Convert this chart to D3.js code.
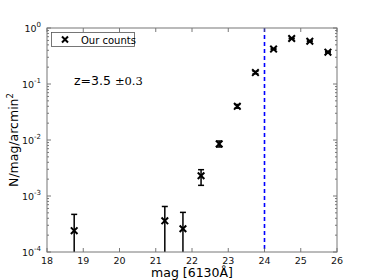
<!DOCTYPE html>
<html>
<head>
<meta charset="utf-8">
<script src="https://cdn.jsdelivr.net/npm/d3@7"></script>
<style>
  body { margin: 0; background: #fff; }
  svg text { font-family: "DejaVu Sans", sans-serif; }
</style>
</head>
<body>
<div id="chart"></div>
<script>
// counts per magnitude bin
var mags = [18.75, 21.25, 21.75, 22.25, 22.75, 23.25, 23.75, 24.25, 24.75, 25.25, 25.75];
var counts = [2.4e-4, 3.6e-4, 2.6e-4, 2.3e-3, 8.5e-3, 0.040, 0.16, 0.42, 0.65, 0.58, 0.37];
var errHi = [4.7e-4, 6.5e-4, 5.1e-4, 2.95e-3, 9.6e-3, 0.043, 0.168, 0.43, 0.66, 0.59, 0.38];
var errLo = [0, 0, 0, 1.55e-3, 7.5e-3, 0.037, 0.152, 0.41, 0.64, 0.57, 0.36];
var xTicks = [18, 19, 20, 21, 22, 23, 24, 25, 26];
var yDecades = [-4, -3, -2, -1, 0];
var limitMag = 24;

var w = 374, h = 280;
var m = {left: 47, right: 37, top: 28, bottom: 28};

var svg = d3.select('#chart').append('svg')
    .attr('width', w)
    .attr('height', h);

var x = d3.scaleLinear().domain([18, 26]).range([m.left, w - m.right]);
var y = d3.scaleLog().domain([1e-4, 1]).range([h - m.bottom, m.top]);

var plot = svg.append('g');

// clip for error bars running off the bottom
svg.append('clipPath').attr('id', 'clip')
  .append('rect')
    .attr('x', m.left).attr('y', m.top)
    .attr('width', w - m.left - m.right).attr('height', h - m.top - m.bottom);

// minor log ticks
var minor = [];
yDecades.slice(0, -1).forEach(function(d){
  for (var k = 2; k < 10; k++) minor.push(k * Math.pow(10, d));
});

var tg = svg.append('g').attr('stroke', '#555').attr('stroke-width', 0.8);
xTicks.forEach(function(t){
  tg.append('line').attr('x1', x(t)).attr('x2', x(t)).attr('y1', y(1e-4)).attr('y2', y(1e-4) - 4);
  tg.append('line').attr('x1', x(t)).attr('x2', x(t)).attr('y1', y(1)).attr('y2', y(1) + 4);
});
yDecades.forEach(function(d){
  var v = Math.pow(10, d);
  tg.append('line').attr('x1', x(18)).attr('x2', x(18) + 4).attr('y1', y(v)).attr('y2', y(v));
  tg.append('line').attr('x1', x(26)).attr('x2', x(26) - 4).attr('y1', y(v)).attr('y2', y(v));
});
minor.forEach(function(v){
  tg.append('line').attr('x1', x(18)).attr('x2', x(18) + 2).attr('y1', y(v)).attr('y2', y(v));
  tg.append('line').attr('x1', x(26)).attr('x2', x(26) - 2).attr('y1', y(v)).attr('y2', y(v));
});

// tick labels
svg.append('g').selectAll('text')
  .data(xTicks).enter().append('text')
    .attr('x', function(d){ return x(d); })
    .attr('y', h - m.bottom + 12)
    .attr('text-anchor', 'middle')
    .attr('font-size', 9.5)
    .attr('fill', '#111')
    .text(function(d){ return d; });

var yl = svg.append('g').selectAll('text')
  .data(yDecades).enter().append('text')
    .attr('x', m.left - 6)
    .attr('y', function(d){ return y(Math.pow(10, d)) + 4; })
    .attr('text-anchor', 'end')
    .attr('font-size', 9.5)
    .attr('fill', '#111');
yl.append('tspan').text('10');
yl.append('tspan').attr('dy', -5).attr('font-size', 7).text(function(d){ return d; });

// limit line
plot.append('line')
  .attr('x1', x(limitMag)).attr('x2', x(limitMag))
  .attr('y1', y(1)).attr('y2', y(1e-4))
  .attr('stroke', '#0000ff').attr('stroke-width', 1.6)
  .attr('stroke-dasharray', '4,3');

// error bars
var eb = plot.append('g').attr('clip-path', 'url(#clip)')
  .attr('stroke', '#000').attr('stroke-width', 1.5);
mags.forEach(function(mg, i){
  var yt = y(errHi[i]);
  var yb = errLo[i] > 0 ? y(errLo[i]) : h;
  eb.append('line').attr('x1', x(mg)).attr('x2', x(mg)).attr('y1', yt).attr('y2', yb);
  eb.append('line').attr('x1', x(mg) - 3).attr('x2', x(mg) + 3).attr('y1', yt).attr('y2', yt);
  if (errLo[i] > 0)
    eb.append('line').attr('x1', x(mg) - 3).attr('x2', x(mg) + 3).attr('y1', yb).attr('y2', yb);
});

// x markers
plot.append('g').selectAll('path')
  .data(mags).enter().append('path')
    .attr('d', 'M-3.3,-3.3L3.3,3.3M-3.3,3.3L3.3,-3.3')
    .attr('transform', function(d, i){ return 'translate(' + x(d) + ',' + y(counts[i]) + ')'; })
    .attr('stroke', '#000').attr('stroke-width', 2).attr('fill', 'none');

// frame
svg.append('rect')
  .attr('x', m.left).attr('y', m.top)
  .attr('width', w - m.left - m.right).attr('height', h - m.top - m.bottom)
  .attr('fill', 'none').attr('stroke', '#777').attr('stroke-width', 1);

// legend
svg.append('rect')
  .attr('x', 51.5).attr('y', 32.5).attr('width', 83).attr('height', 14)
  .attr('fill', '#fff').attr('stroke', '#555').attr('stroke-width', 0.8);
svg.append('path')
  .attr('d', 'M-3,-3L3,3M-3,3L3,-3')
  .attr('transform', 'translate(65,39.5)')
  .attr('stroke', '#000').attr('stroke-width', 2);
svg.append('text')
  .attr('x', 81).attr('y', 43.5)
  .attr('font-size', 10)
  .text('Our counts');

// redshift note
var zt = svg.append('text').attr('x', 74).attr('y', 85).attr('font-size', 12.5);
zt.append('tspan').text('z=3.5 ');
zt.append('tspan').attr('font-family', '"DejaVu Serif", serif').attr('font-size', 11.5).text('\u00b10.3');

// axis labels
svg.append('text')
  .attr('x', x(22)).attr('y', h - 3)
  .attr('text-anchor', 'middle')
  .attr('font-size', 12.5)
  .text('mag [6130\u00c5]');

var ylab = svg.append('text')
  .attr('transform', 'translate(18,' + ((m.top + h - m.bottom) / 2) + ') rotate(-90)')
  .attr('text-anchor', 'middle')
  .attr('font-size', 12.5);
ylab.append('tspan').text('N/mag/arcmin');
ylab.append('tspan').attr('dy', -5).attr('font-size', 8.5).text('2');
</script>
</body>
</html>
